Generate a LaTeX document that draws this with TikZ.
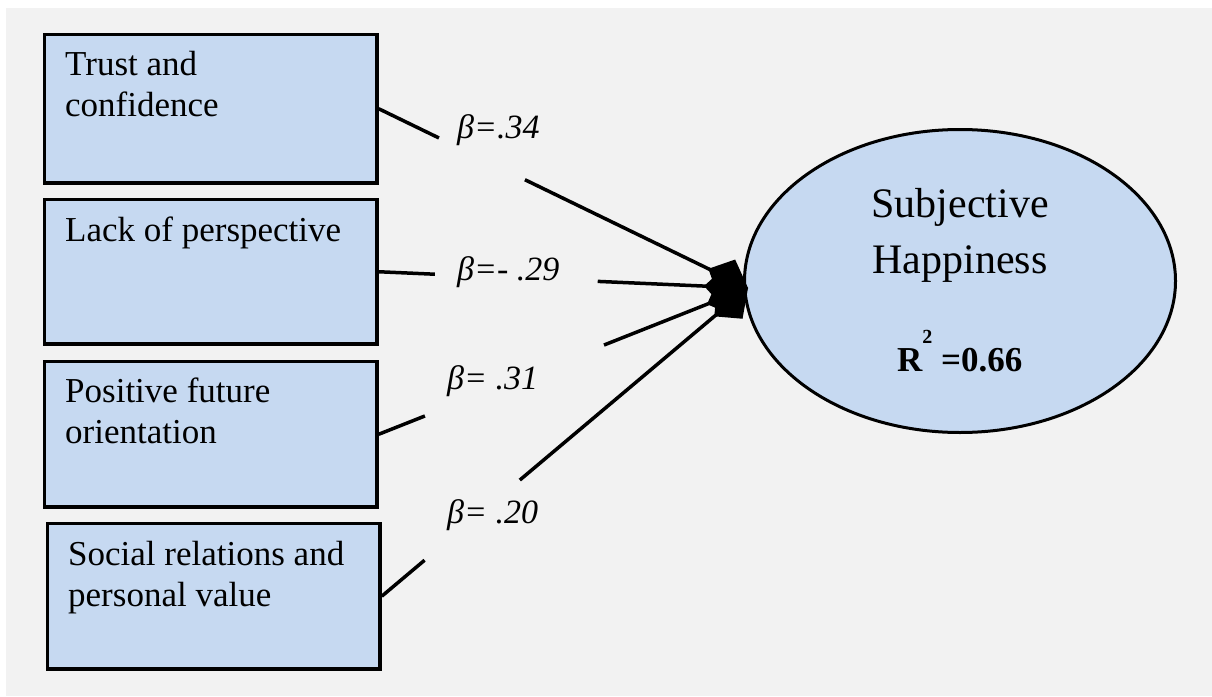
\documentclass[tikz,border=0pt]{standalone}
\usepackage{fontspec}
\setmainfont{Liberation Serif}
\usetikzlibrary{arrows.meta,calc,shapes.geometric}
\definecolor{bggray}{HTML}{F2F2F2}
\definecolor{boxblue}{HTML}{C6D9F1}
\begin{document}
\begin{tikzpicture}[x=1pt,y=-1pt,
  varbox/.style={draw=black, line width=3.5pt, fill=boxblue, minimum width=332.5pt, anchor=north west, inner sep=0pt},
  boxtext/.style={font=\fontsize{35}{41}\selectfont, align=left, anchor=base west, inner sep=0pt},
  betalab/.style={font=\fontsize{34}{40}\selectfont\itshape, anchor=base west, inner sep=0pt},
  conn/.style={line width=3.5pt},
  connarrow/.style={line width=3.5pt, -{Kite[length=44pt,width=40pt,inset=20pt]}}]
\useasboundingbox (0,0) rectangle (1212,696);
\fill[bggray] (6,8) rectangle (1212,696);
% predictor boxes
\node[varbox, minimum height=148.5pt] (b1) at (42.75,32.75) {};
\node[varbox, minimum height=144.5pt] (b2) at (42.75,197.75) {};
\node[varbox, minimum height=145.5pt] (b3) at (42.75,359.75) {};
\node[varbox, minimum height=145.5pt] (b4) at (45.75,521.75) {};
\node[boxtext] (t1) at (65,116) {Trust and\\confidence};
\node[boxtext] (t2) at (65,241) {Lack of perspective};
\node[boxtext] (t3) at (65,443) {Positive future\\orientation};
\node[boxtext] (t4) at (68,606) {Social relations and\\personal value};
% outcome ellipse
\node[draw=black, line width=3pt, fill=boxblue, ellipse, minimum width=431pt, minimum height=303pt, inner sep=0pt] (ell) at (960,281) {};
\node[font=\fontsize{42}{56}\selectfont, align=center, anchor=base, inner sep=0pt] (et) at (960,273) {Subjective\\Happiness};
\node[font=\fontsize{35}{40}\selectfont\bfseries, anchor=base west, inner sep=0pt] (r2) at (897,371) {R\raisebox{28pt}{\fontsize{20}{20}\selectfont 2} =0.66};
% coefficient labels
\node[betalab] (l1) at (457,138) {β=.34};
\node[betalab] (l2) at (457,280) {β=- .29};
\node[betalab] (l3) at (447,389) {β= .31};
\node[betalab] (l4) at (447,523) {β= .20};
% connectors
\coordinate (tip) at (748,288);
\draw[conn] (b1.east) -- ($(b1.east)!0.163!(tip)$);
\draw[connarrow] ($(b1.east)!0.396!(tip)$) -- (tip);
\draw[conn] (b2.east) -- ($(b2.east)!0.152!(tip)$);
\draw[connarrow] ($(b2.east)!0.593!(tip)$) -- (tip);
\draw[conn] (b3.east) -- ($(b3.east)!0.125!(tip)$);
\draw[connarrow] ($(b3.east)!0.61!(tip)$) -- (tip);
\draw[conn] (b4.east) -- ($(b4.east)!0.117!(tip)$);
\draw[connarrow] ($(b4.east)!0.377!(tip)$) -- (tip);
\end{tikzpicture}
\end{document}
